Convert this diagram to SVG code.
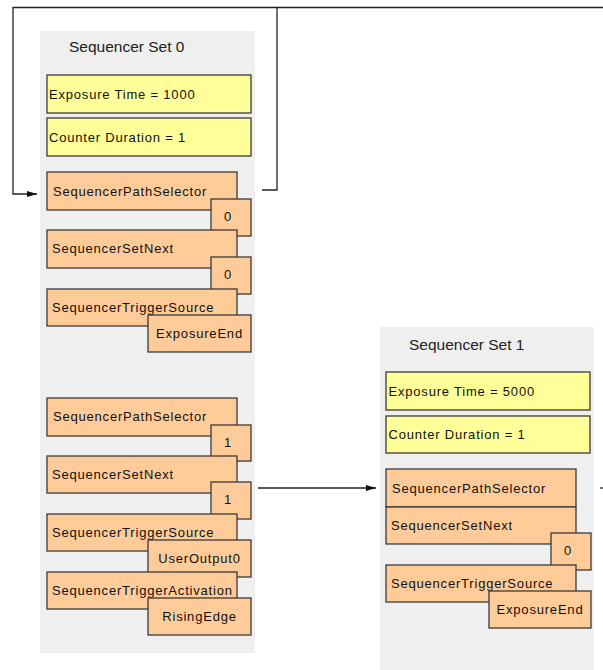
<svg xmlns="http://www.w3.org/2000/svg" width="603" height="670" viewBox="0 0 603 670">
<defs>
<style>
.panel{fill:#efefef;stroke:none}
.title{font-family:"Liberation Sans",Arial,sans-serif;font-size:15.5px;fill:#222}
.y{fill:#ffff99;stroke:#3a3a3a;stroke-width:1.3}
.o{fill:#ffcc99;stroke:#3a3a3a;stroke-width:1.3}
.t{font-family:"Liberation Sans",Arial,sans-serif;font-size:13px;letter-spacing:0.8px;fill:#111}
.c{text-anchor:middle}
.ln{fill:none;stroke:#222;stroke-width:1.3}
</style>
<marker id="ah" markerWidth="10" markerHeight="8" refX="10" refY="4" orient="auto" markerUnits="userSpaceOnUse">
<path d="M0,1 L10,4 L0,7 Z" fill="#111"/>
</marker>
</defs>
<rect width="603" height="670" fill="#ffffff"/>

<g id="set0">
<rect class="panel" x="40" y="31" width="215" height="622"/>
<text class="title" x="69" y="52">Sequencer Set 0</text>
<g id="s0-exposure"><rect class="y" x="47" y="75" width="204" height="38"/><text class="t" x="49" y="99">Exposure Time = 1000</text></g>
<g id="s0-counter"><rect class="y" x="47" y="118" width="204" height="38"/><text class="t" x="49" y="142">Counter Duration = 1</text></g>
<g id="s0-path"><rect class="o" x="47" y="172" width="190" height="38"/><text class="t" x="53" y="196">SequencerPathSelector</text></g>
<g id="s0-path-val"><rect class="o" x="211" y="199" width="40" height="37"/><text class="t c" x="228" y="221">0</text></g>
<g id="s0-next"><rect class="o" x="47" y="230" width="190" height="38"/><text class="t" x="52" y="253">SequencerSetNext</text></g>
<g id="s0-next-val"><rect class="o" x="211" y="257" width="40" height="37"/><text class="t c" x="228" y="279">0</text></g>
<g id="s0-trig"><rect class="o" x="47" y="289" width="190" height="37"/><text class="t" x="52" y="312">SequencerTriggerSource</text></g>
<g id="s0-trig-val"><rect class="o" x="148" y="315" width="103" height="37"/><text class="t c" x="199.5" y="338">ExposureEnd</text></g>

<g id="s0-path2"><rect class="o" x="47" y="398" width="190" height="38"/><text class="t" x="53" y="421">SequencerPathSelector</text></g>
<g id="s0-path2-val"><rect class="o" x="211" y="425" width="40" height="36"/><text class="t c" x="228" y="447">1</text></g>
<g id="s0-next2"><rect class="o" x="47" y="456" width="190" height="37"/><text class="t" x="52" y="479">SequencerSetNext</text></g>
<g id="s0-next2-val"><rect class="o" x="211" y="482" width="40" height="37"/><text class="t c" x="228" y="504">1</text></g>
<g id="s0-trig2"><rect class="o" x="47" y="514" width="190" height="37"/><text class="t" x="52" y="537">SequencerTriggerSource</text></g>
<g id="s0-trig2-val"><rect class="o" x="148" y="540" width="103" height="37"/><text class="t c" x="199.5" y="563">UserOutput0</text></g>
<g id="s0-act"><rect class="o" x="47" y="572" width="190" height="37"/><text class="t" x="52" y="595">SequencerTriggerActivation</text></g>
<g id="s0-act-val"><rect class="o" x="148" y="598" width="103" height="37"/><text class="t c" x="199.5" y="621">RisingEdge</text></g>
</g>

<g id="set1">
<rect class="panel" x="380" y="327" width="214" height="343"/>
<text class="title" x="409" y="350">Sequencer Set 1</text>
<g id="s1-exposure"><rect class="y" x="386" y="372" width="204" height="38"/><text class="t" x="388.5" y="396">Exposure Time = 5000</text></g>
<g id="s1-counter"><rect class="y" x="386" y="416" width="204" height="37"/><text class="t" x="388.5" y="439">Counter Duration = 1</text></g>
<g id="s1-path"><rect class="o" x="386" y="469" width="190" height="38"/><text class="t" x="392" y="493">SequencerPathSelector</text></g>
<g id="s1-next"><rect class="o" x="386" y="507" width="190" height="37"/><text class="t" x="391" y="530">SequencerSetNext</text></g>
<g id="s1-next-val"><rect class="o" x="551" y="533" width="40" height="37"/><text class="t c" x="568" y="555">0</text></g>
<g id="s1-trig"><rect class="o" x="386" y="565" width="190" height="37"/><text class="t" x="391" y="588">SequencerTriggerSource</text></g>
<g id="s1-trig-val"><rect class="o" x="489" y="591" width="102" height="37"/><text class="t c" x="540" y="614">ExposureEnd</text></g>
</g>

<g id="connectors">
<path class="ln" d="M262,190 H277 V7.5 H603"/>
<path class="ln" d="M277,7.5 H13 V194 H37" marker-end="url(#ah)"/>
<path class="ln" d="M258,488 H376" marker-end="url(#ah)"/>
<path class="ln" d="M600,488 H603"/>
</g>
</svg>
